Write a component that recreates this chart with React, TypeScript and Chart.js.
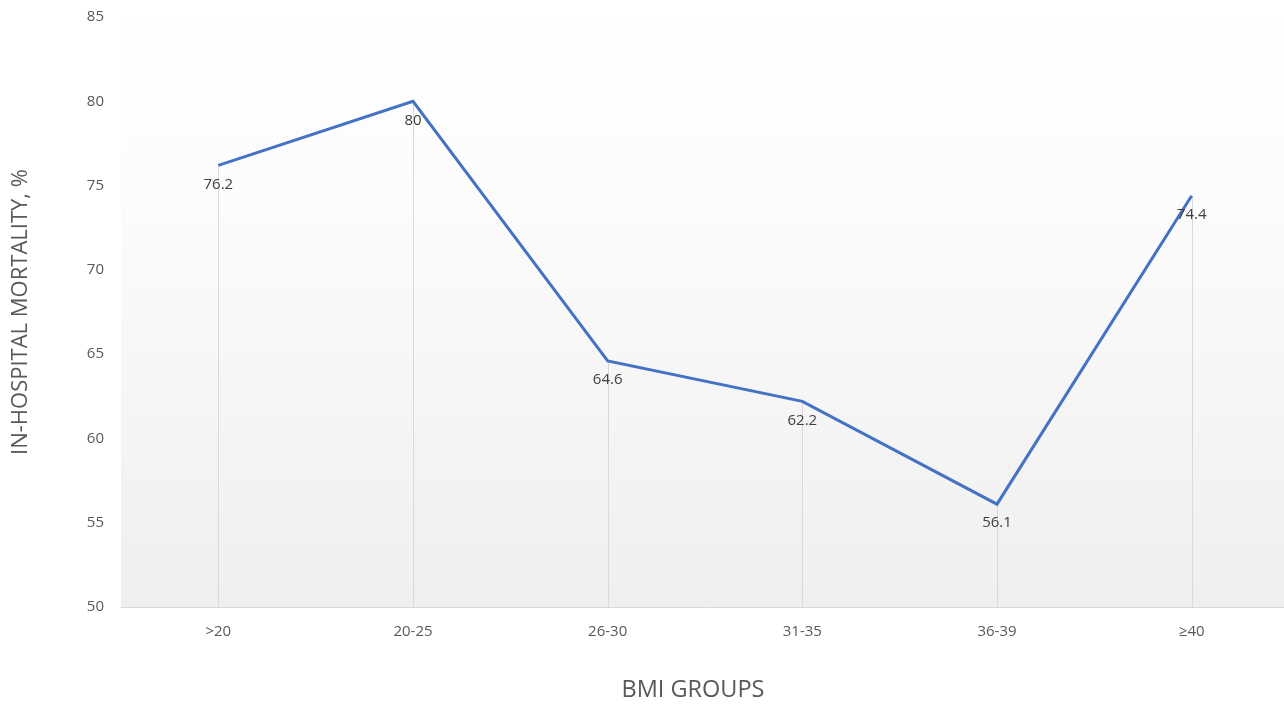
import React, { useEffect, useRef } from "react";
import { Chart, registerables } from "chart.js";

Chart.register(...registerables);

const categories = [">20", "20-25", "26-30", "31-35", "36-39", "≥40"];
const mortality = [76.2, 80, 64.6, 62.2, 56.1, 74.4];
const yTitle = "IN-HOSPITAL MORTALITY, %";
const xTitle = "BMI GROUPS";

const FONT = "'Open Sans', 'Liberation Sans', sans-serif";
const TEXT = "#595959";

const bgPlugin = {
  id: "bgGradient",
  beforeDraw(chart: any) {
    const { ctx, chartArea } = chart;
    if (!chartArea) return;
    const g = ctx.createLinearGradient(0, chartArea.top, 0, chartArea.bottom);
    g.addColorStop(0, "#ffffff");
    g.addColorStop(0.3, "#fcfcfc");
    g.addColorStop(1, "#efefef");
    ctx.save();
    ctx.fillStyle = g;
    ctx.fillRect(chartArea.left, chartArea.top, chartArea.right - chartArea.left, chartArea.bottom - chartArea.top);
    ctx.restore();
  },
};

const dropPlugin = {
  id: "dropLines",
  beforeDatasetsDraw(chart: any) {
    const { ctx, chartArea } = chart;
    const meta = chart.getDatasetMeta(0);
    ctx.save();
    ctx.strokeStyle = "#d9d9d9";
    ctx.lineWidth = 1;
    meta.data.forEach((pt: any) => {
      const x = Math.round(pt.x) + 0.5;
      ctx.beginPath();
      ctx.moveTo(x, pt.y);
      ctx.lineTo(x, chartArea.bottom);
      ctx.stroke();
    });
    ctx.restore();
  },
  afterDatasetsDraw(chart: any) {
    const { ctx } = chart;
    const meta = chart.getDatasetMeta(0);
    const ds = chart.data.datasets[0].data;
    ctx.save();
    ctx.fillStyle = "#404040";
    ctx.font = `15px ${FONT}`;
    ctx.textAlign = "center";
    ctx.textBaseline = "middle";
    meta.data.forEach((pt: any, i: number) => {
      ctx.fillText(String(ds[i]), pt.x, pt.y + 19);
    });
    ctx.restore();
  },
};

const titlePlugin = {
  id: "axisTitles",
  afterDraw(chart: any) {
    const { ctx } = chart;
    ctx.save();
    ctx.fillStyle = TEXT;
    ctx.textAlign = "center";
    ctx.textBaseline = "middle";
    ctx.font = `23.5px ${FONT}`;
    ctx.fillText(xTitle, 693, 690);
    ctx.font = `22px ${FONT}`;
    ctx.translate(21, 312);
    ctx.rotate(-Math.PI / 2);
    ctx.fillText(yTitle, 0, 0);
    ctx.restore();
  },
};

export default function App() {
  const ref = useRef<HTMLCanvasElement | null>(null);
  useEffect(() => {
    if (!ref.current) return;
    const chart = new Chart(ref.current, {
      type: "line",
      data: {
        labels: categories,
        datasets: [
          {
            data: mortality,
            borderColor: "#4472C4",
            borderWidth: 3,
            pointRadius: 0,
            pointHoverRadius: 0,
            tension: 0,
            fill: false,
          },
        ],
      },
      options: {
        animation: false,
        responsive: false,
        devicePixelRatio: 1,
        layout: { autoPadding: false, padding: { top: 17, right: 11, left: 0, bottom: 0 } },
        plugins: { legend: { display: false }, tooltip: { enabled: false } },
        scales: {
          x: {
            type: "category",
            offset: true,
            grid: { display: false, drawTicks: false },
            border: { display: true, color: "#d9d9d9", width: 1 },
            ticks: { color: TEXT, font: { family: FONT, size: 15 }, padding: 16, maxRotation: 0 },
            afterFit(scale: any) {
              scale.height = 98;
              scale.paddingLeft = 0;
              scale.paddingRight = 0;
            },
          },
          y: {
            min: 50,
            max: 85,
            grid: { display: false, drawTicks: false },
            border: { display: false },
            ticks: { stepSize: 5, color: TEXT, font: { family: FONT, size: 15 }, padding: 17 },
            afterFit(scale: any) {
              scale.width = 121;
              scale.paddingTop = 0;
              scale.paddingBottom = 0;
            },
          },
        },
      },
      plugins: [bgPlugin, dropPlugin, titlePlugin],
    });
    return () => chart.destroy();
  }, []);
  return (
    <div style={{ position: "fixed", left: 0, top: 0, width: 1284, height: 705, overflow: "hidden", background: "#fff" }}>
      <canvas ref={ref} width={1300} height={705} style={{ display: "block" }} />
    </div>
  );
}
